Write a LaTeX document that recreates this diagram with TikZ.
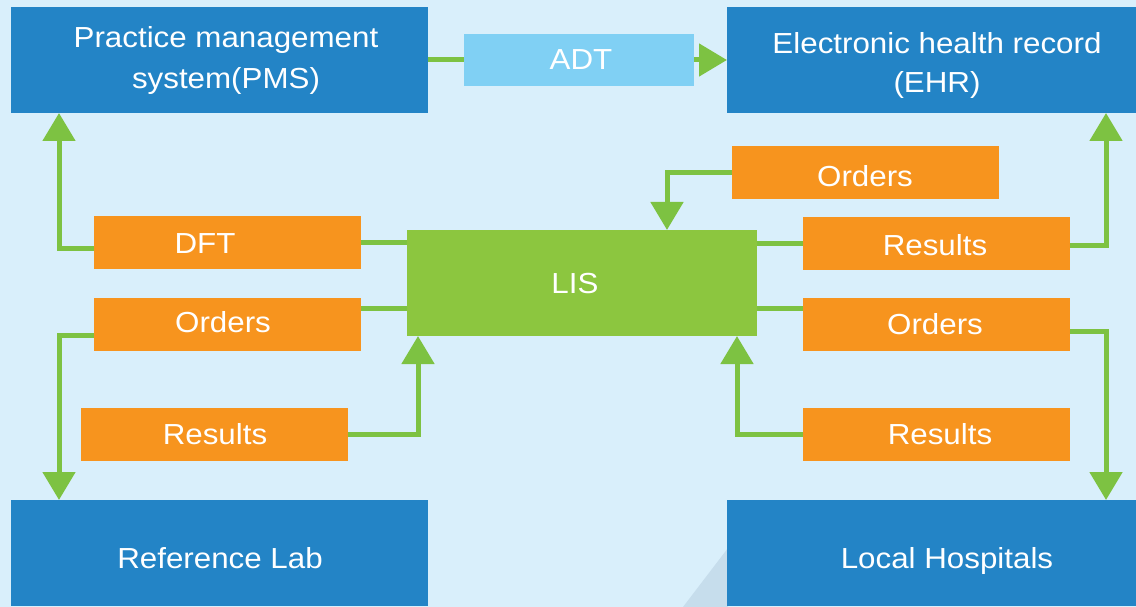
\documentclass[tikz,border=0pt]{standalone}
\usepackage{fontspec}
\setmainfont{Liberation Sans}[FakeStretch=1.08]
\usetikzlibrary{arrows.meta}
\definecolor{bgc}{HTML}{D9EFFB}
\definecolor{wedge}{HTML}{C6DDEC}
\definecolor{sysblue}{HTML}{2384C6}
\definecolor{msgorange}{HTML}{F7941E}
\definecolor{lisgreen}{HTML}{8CC63F}
\definecolor{linkgreen}{HTML}{7DC242}
\definecolor{adtblue}{HTML}{80D0F4}
\begin{document}
\begin{tikzpicture}[x=1pt,y=-1pt,
  boxbase/.style={anchor=north west, inner sep=0pt, outer sep=0pt, draw=none},
  sysbox/.style={boxbase, fill=sysblue, minimum height=106pt},
  msgbox/.style={boxbase, fill=msgorange, minimum width=267pt, minimum height=53pt},
  lisbox/.style={boxbase, fill=lisgreen, minimum width=350pt, minimum height=106pt},
  adtbox/.style={boxbase, fill=adtblue, minimum width=230pt, minimum height=52pt},
  lbl/.style={anchor=base, inner sep=0pt, text=white, font=\fontsize{29}{35}\selectfont},
  link/.style={draw=linkgreen, line width=5pt},
  flow/.style={link, -{Triangle[width=32pt,length=28pt]}},
]
\fill[bgc] (0,0) rectangle (1136,607);
\useasboundingbox (0,0) rectangle (1136,607);
\fill[wedge] (683,607) -- (728,548) -- (728,607) -- cycle;

% boxes
\node[sysbox, minimum width=417pt] (pms) at (11,7) {};
\node[sysbox, minimum width=409pt] (ehr) at (727,7) {};
\node[sysbox, minimum width=417pt] (reflab) at (11,500) {};
\node[sysbox, minimum width=409pt] (lochosp) at (727,500) {};
\node[adtbox] (adt) at (464,34) {};
\node[lisbox] (lis) at (407,230) {};
\node[msgbox] (dft) at (94,216) {};
\node[msgbox] (ordersL) at (94,298) {};
\node[msgbox] (resultsL) at (81,408) {};
\node[msgbox] (ordersTR) at (732,146) {};
\node[msgbox] (resultsR) at (803,217) {};
\node[msgbox] (ordersR) at (803,298) {};
\node[msgbox] (resultsBR) at (803,408) {};

% connectors
\draw[link] (pms.east) -- (adt.west);
\draw[flow] (adt.east) -- (adt.east -| ehr.west);
\draw[flow] ([yshift=-5.5pt]dft.west) -| ([xshift=48pt]pms.south west);
\draw[link] (dft.east) -- (dft.east -| lis.west);
\coordinate (oLtap) at ([yshift=16.5pt]ordersL.east);
\draw[link] (oLtap) -- (oLtap -| lis.west);
\draw[flow] ([yshift=-10.5pt]ordersL.west) -| ([xshift=48pt]reflab.north west);
\draw[flow] (resultsL.east) -| ([xshift=11pt]lis.south west);
\draw[flow] (ordersTR.west) -| ([xshift=260pt]lis.north west);
\draw[link] (resultsR.west) -- (resultsR.west -| lis.east);
\coordinate (oRtap) at ([yshift=16.5pt]ordersR.west);
\draw[link] (oRtap) -- (oRtap -| lis.east);
\draw[flow] ([yshift=-2pt]resultsR.east) -| ([xshift=-30pt]ehr.south east);
\draw[flow] ([yshift=-6.5pt]ordersR.east) -| ([xshift=-30pt]lochosp.north east);
\draw[flow] (resultsBR.west) -| ([xshift=330pt]lis.south west);

% labels
\node[lbl] (pmsA) at (226,47.5) {Practice management};
\node[lbl] (pmsB) at (226,88.5) {system(PMS)};
\node[lbl] (ehrA) at (937,53.5) {Electronic health record};
\node[lbl] (ehrB) at (937,92.5) {(EHR)};
\node[lbl] (adtT) at (581,69.5) {ADT};
\node[lbl] (lisT) at (575,293) {LIS};
\node[lbl] (dftT) at (205,253.5) {DFT};
\node[lbl] (ordersLT) at (223,332) {Orders};
\node[lbl] (resultsLT) at (215,444) {Results};
\node[lbl] (ordersTRT) at (865,186.5) {Orders};
\node[lbl] (resultsRT) at (935,255.5) {Results};
\node[lbl] (ordersRT) at (935,334.5) {Orders};
\node[lbl] (resultsBRT) at (940,444.5) {Results};
\node[lbl] (reflabT) at (220,568.5) {Reference Lab};
\node[lbl] (lochospT) at (947,568.5) {Local Hospitals};
\end{tikzpicture}
\end{document}
